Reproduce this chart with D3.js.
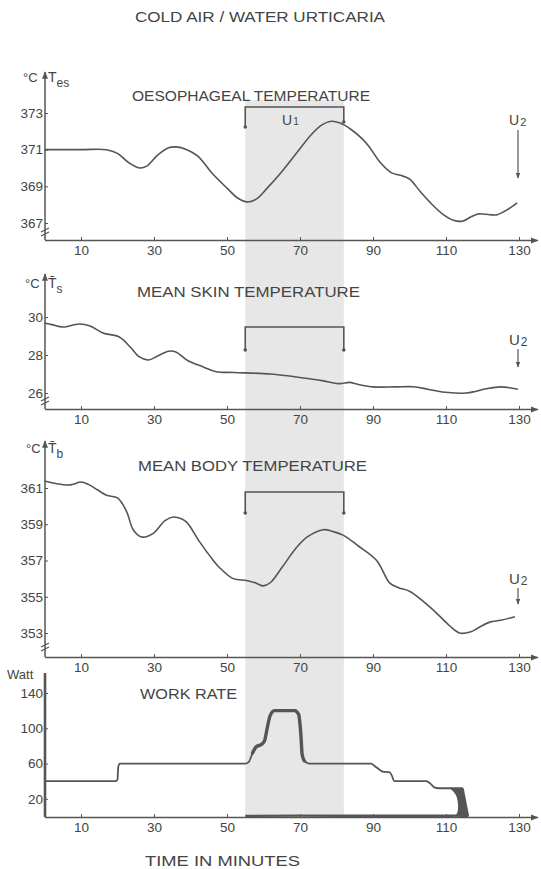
<!DOCTYPE html>
<html><head><meta charset="utf-8">
<script src="https://cdn.jsdelivr.net/npm/d3@7"></script>
<style>
html,body{margin:0;padding:0;background:#fff;}
svg{display:block;font-family:"Liberation Sans",Arial,sans-serif;}
</style></head><body>
<svg id="c" width="541" height="869"></svg>
<script>
// ---------- data ----------
const xTicks = [10, 30, 50, 70, 90, 110, 130];
const urticariaBand = [55, 82];   // U1 period, minutes
const u2Time = 130;

const tesTime  = [0,10,17,20,23,26,28,31,34,36,39,42,46,50,53,55.5,58,61,65,69,73,76,78.5,81,84,87,89,92,95,97.5,100,103,106,109,112,114.5,117,119,122,124,127,129.5];
const tesValue = [37.10,37.10,37.10,37.08,37.03,37.00,37.01,37.07,37.11,37.115,37.10,37.065,36.97,36.89,36.835,36.815,36.83,36.89,36.98,37.08,37.18,37.235,37.255,37.245,37.21,37.16,37.115,37.03,36.975,36.96,36.94,36.87,36.805,36.75,36.715,36.71,36.735,36.75,36.745,36.745,36.775,36.81];
const tesTicks = [37.3, 37.1, 36.9, 36.7];
const tesTickLabels = ["373", "371", "369", "367"];

const tsTime  = [0,2,5,9.5,12.5,16,20.5,23.5,26,28.5,31,34,36,39,43.5,47,52,62,71,76,80,81.5,83.5,86,90,96,101,105,109,115.5,118,121,125,129.7];
const tsValue = [29.68,29.6,29.47,29.63,29.53,29.16,28.95,28.42,27.9,27.74,27.95,28.2,28.16,27.74,27.37,27.12,27.08,27.0,26.79,26.65,26.5,26.5,26.56,26.45,26.32,26.32,26.33,26.2,26.05,26.0,26.08,26.22,26.32,26.2];
const tsTicks = [30, 28, 26];
const tsTickLabels = ["30", "28", "26"];

const tbTime  = [0,3,7,10,12,14.5,17,20,22.5,24.3,26.6,29.8,33,35.3,37.5,39,42.6,45.5,48,51.7,55.4,58,60,62,65,69,72,76.4,79,81.8,86,91,94.6,97,100,104,107.4,111,113.7,116.6,119,122,125,128.9];
const tbValue = [36.139,36.125,36.117,36.133,36.12,36.09,36.06,36.045,35.97,35.87,35.83,35.85,35.92,35.94,35.93,35.91,35.80,35.72,35.66,35.60,35.59,35.575,35.56,35.58,35.66,35.77,35.83,35.87,35.86,35.84,35.78,35.70,35.575,35.55,35.53,35.47,35.41,35.34,35.30,35.305,35.33,35.36,35.37,35.39];
const tbTicks = [36.1, 35.9, 35.7, 35.5, 35.3];
const tbTickLabels = ["361", "359", "357", "355", "353"];

const wrTime  = [0,19.6,20.0,20.2,20.6,55,56,57,58,59.5,60.3,61,61.8,63,68.5,69.6,70.2,70.6,71.2,72.5,89.5,90.5,91.8,92.6,94.6,95.2,95.8,104.6,105.8,106.8,108,114.6];
const wrValue = [40,40,42,56,60,60,62,72,79,82,86,100,114,120,120,116,95,70,63,60,60,57,53,51,50,46,40,40,37,33,32,32];
const wrBaseTime  = [55,70,90,110,113,116];
const wrBaseValue = [0.6,1.0,0.8,0.8,1.0,0];
const wrEndValue  = [32,25,12,3,0];
const wrEndLeft   = [111,113,113.4,113.2,112];
const wrEndRight  = [114.6,114.9,115.4,115.8,116.1];
const wrTicks = [140, 100, 60, 20];
const wrTickLabels = ["140", "100", "60", "20"];

// ---------- layout ----------
const ink = "#555", txt = "#444";
const svg = d3.select("#c");
const x = d3.scaleLinear().domain([0, 135]).range([44.5, 537.25]);
const AX = 45;

const defs = svg.append("defs");
defs.append("marker").attr("id", "arr").attr("viewBox", "0 0 10 10")
  .attr("refX", 9).attr("refY", 5).attr("markerWidth", 5).attr("markerHeight", 5)
  .attr("orient", "auto").append("path").attr("d", "M0,1L10,5L0,9z").attr("fill", ink);

// shaded band
svg.append("rect").attr("x", x(urticariaBand[0])).attr("width", x(urticariaBand[1]) - x(urticariaBand[0]))
  .attr("y", 100).attr("height", 717).attr("fill", "#e7e7e7");

// main title
svg.append("text").attr("x", 135).attr("y", 22).attr("textLength", 250).attr("lengthAdjust", "spacingAndGlyphs")
  .attr("font-size", 15).attr("fill", txt).text("COLD AIR / WATER URTICARIA");

function panel(o) {
  const g = svg.append("g");
  const y = d3.scaleLinear().domain(o.domain).range(o.range);
  const xa = g.append("g").attr("transform", `translate(0,${o.axisY})`)
    .call(d3.axisBottom(x).tickValues(xTicks).tickSizeInner(-3).tickSizeOuter(0).tickPadding(5).tickFormat(d3.format("d")));
  xa.select(".domain").attr("stroke", ink).attr("stroke-width", 1.6).attr("marker-end", "url(#arr)");
  xa.selectAll(".tick line").attr("stroke", ink);
  xa.selectAll(".tick text").attr("font-size", 13.5).attr("fill", txt).attr("dy", "0.75em");
  const ya = g.append("g").attr("transform", `translate(${AX},0)`)
    .call(d3.axisLeft(y).tickValues(o.ticks).tickFormat((d, i) => o.labels[i]).tickSizeInner(-3).tickSizeOuter(0).tickPadding(2));
  ya.select(".domain").remove();
  ya.selectAll(".tick line").attr("stroke", ink);
  ya.selectAll(".tick text").attr("font-size", 13.5).attr("fill", txt);
  g.append("line").attr("x1", AX).attr("x2", AX).attr("y1", o.axisY).attr("y2", o.topY)
    .attr("stroke", ink).attr("stroke-width", o.thickY ? 2.6 : 1.5)
    .attr("marker-end", o.thickY ? null : "url(#arr)");
  if (o.breakY) {
    g.append("path").attr("d", `M${AX-4},${o.breakY+1}l8,-4M${AX-4},${o.breakY+5}l8,-4`)
      .attr("stroke", ink).attr("stroke-width", 1.3).attr("fill", "none");
  }
  g.append("text").attr("x", o.title[1]).attr("y", o.title[2]).attr("textLength", o.title[3])
    .attr("lengthAdjust", "spacingAndGlyphs").attr("font-size", 14.5).attr("fill", txt).text(o.title[0]);
  return { g, y };
}

function bracket(g, top, lb, rb) {
  const x0 = x(urticariaBand[0]), x1 = x(urticariaBand[1]);
  g.append("path").attr("d", `M${x0},${lb}V${top}H${x1}V${rb}`).attr("fill", "none")
    .attr("stroke", ink).attr("stroke-width", 1.6);
  g.append("circle").attr("cx", x0).attr("cy", lb).attr("r", 1.8).attr("fill", ink);
  g.append("circle").attr("cx", x1).attr("cy", rb).attr("r", 1.8).attr("fill", ink);
}
function u2(g, ly, y1, y2, fs) {
  const xx = x(u2Time) - 1;
  const t = g.append("text").attr("x", xx - 9).attr("y", ly).attr("font-size", fs).attr("fill", txt);
  t.append("tspan").text("U");
  t.append("tspan").attr("font-size", fs - 3).attr("dx", 1).attr("dy", 1).text("2");
  g.append("line").attr("x1", xx).attr("x2", xx).attr("y1", y1).attr("y2", y2)
    .attr("stroke", ink).attr("stroke-width", 1.2).attr("marker-end", "url(#arr)");
}
function curve(g, y, ts, vs, w) {
  const line = d3.line().x(d => x(d[0])).y(d => y(d[1])).curve(d3.curveCatmullRom.alpha(0.5));
  g.append("path").datum(ts.map((t, i) => [t, vs[i]])).attr("d", line)
    .attr("fill", "none").attr("stroke", ink).attr("stroke-width", w || 1.6);
}
function unitLabel(g, lx, ly, sym, sub, bar) {
  g.append("text").attr("x", lx).attr("y", ly).attr("font-size", 13).attr("fill", txt).text("°C");
  const t = g.append("text").attr("x", AX + 3).attr("y", ly).attr("font-size", 14).attr("fill", txt);
  t.append("tspan").text(bar ? sym + "\u0304" : sym);
  t.append("tspan").attr("font-size", 12).attr("dy", 5).text(sub);
}

// Panel 1
const p1 = panel({ domain: [36.7, 37.3], range: [223, 113], axisY: 240, topY: 72, breakY: 231,
  ticks: tesTicks, labels: tesTickLabels, title: ["OESOPHAGEAL TEMPERATURE", 132, 101, 238] });
unitLabel(p1.g, 23, 82, "T", "es", false);
curve(p1.g, p1.y, tesTime, tesValue);
bracket(p1.g, 107, 127, 122);
{ const t = p1.g.append("text").attr("x", 282).attr("y", 125).attr("font-size", 14).attr("fill", txt);
  t.append("tspan").text("U"); t.append("tspan").attr("font-size", 10).attr("dx", 1).text("1"); }
u2(p1.g, 125, 130, 178, 14);

// Panel 2
const p2 = panel({ domain: [26, 30], range: [393, 317], axisY: 409, topY: 274, breakY: 400,
  ticks: tsTicks, labels: tsTickLabels, title: ["MEAN SKIN TEMPERATURE", 137, 297, 223] });
unitLabel(p2.g, 25, 288, "T", "s", true);
curve(p2.g, p2.y, tsTime, tsValue);
bracket(p2.g, 327, 350, 350);
u2(p2.g, 345, 349, 367, 15);

// Panel 3
const p3 = panel({ domain: [35.3, 36.1], range: [633, 488], axisY: 657, topY: 441, breakY: 646,
  ticks: tbTicks, labels: tbTickLabels, title: ["MEAN BODY TEMPERATURE", 138, 471, 229] });
unitLabel(p3.g, 26, 453, "T", "b", true);
curve(p3.g, p3.y, tbTime, tbValue);
bracket(p3.g, 492, 513, 513);
u2(p3.g, 584, 588, 604, 15);

// Panel 4: work rate
const p4 = panel({ domain: [0, 140], range: [816.5, 693], axisY: 817, topY: 673, thickY: true,
  ticks: wrTicks, labels: wrTickLabels, title: ["WORK RATE", 140, 699, 97] });
p4.g.append("text").attr("x", 7).attr("y", 679).attr("font-size", 13).attr("fill", txt).text("Watt");
{
  const y = p4.y;
  const pts = wrTime.map((t, i) => [t, wrValue[i]]);
  const line = d3.line().x(d => x(d[0])).y(d => y(d[1])).curve(d3.curveMonotoneX);
  p4.g.append("path").datum(pts).attr("d", line).attr("fill", "none").attr("stroke", ink).attr("stroke-width", 1.8);
  p4.g.append("path").datum(pts.filter(d => d[0] >= 56.5 && d[0] <= 71.2)).attr("d", line)
    .attr("fill", "none").attr("stroke", ink).attr("stroke-width", 3.4).attr("stroke-linecap", "round");
  const base = wrBaseTime.map((t, i) => [t, wrBaseValue[i]]);
  p4.g.append("path").datum(base).attr("d", line).attr("fill", "none").attr("stroke", ink).attr("stroke-width", 2.4);
  const end = wrEndValue.map((v, i) => ({ v, l: wrEndLeft[i], r: wrEndRight[i] }));
  p4.g.append("path").datum(end)
    .attr("d", d3.area().y(d => y(d.v)).x0(d => x(d.l)).x1(d => x(d.r)).curve(d3.curveBasis))
    .attr("fill", ink);
  p4.g.append("line").attr("x1", x(114.6)).attr("x2", x(116.1)).attr("y1", y(32)).attr("y2", y(0))
    .attr("stroke", ink).attr("stroke-width", 1.8);
}
svg.append("text").attr("x", 145).attr("y", 866).attr("textLength", 155).attr("lengthAdjust", "spacingAndGlyphs")
  .attr("font-size", 14.5).attr("fill", txt).text("TIME IN MINUTES");
</script>
</body></html>
